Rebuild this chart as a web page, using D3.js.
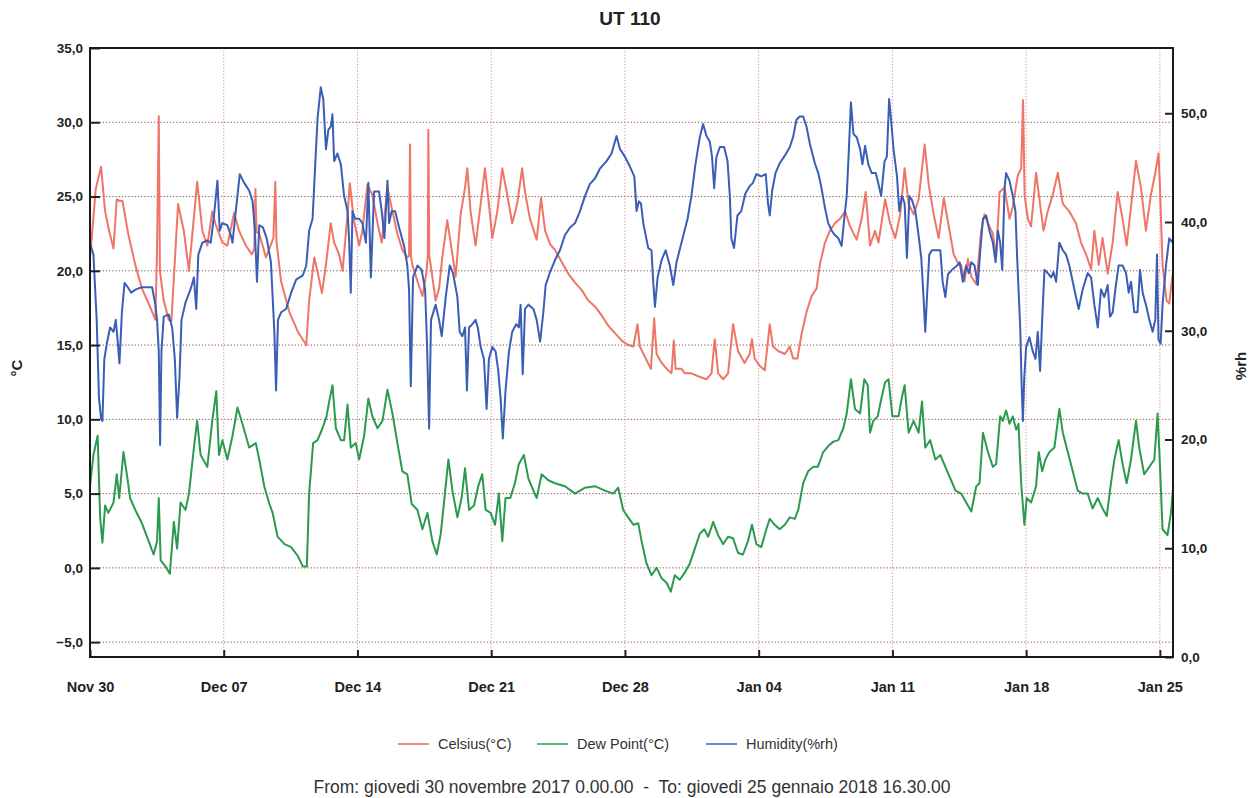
<!DOCTYPE html>
<html>
<head>
<meta charset="utf-8">
<script src="https://cdn.jsdelivr.net/npm/d3@7"></script>
<style>
  body { margin: 0; background: #fff; }
  text { font-family: "Liberation Sans", Arial, sans-serif; }
</style>
</head>
<body>
<div id="chart"></div>
<script>
// chart values: [day offset from Nov 30 2017 00:00, value]
const celsius = [[0,20.8],[0.3,25.5],[0.58,27.0],[0.79,24.0],[1.0,22.7],[1.23,21.5],[1.4,24.8],[1.55,24.7],[1.7,24.7],[2.0,22.5],[2.37,20.4],[2.72,18.8],[3.07,17.8],[3.42,16.7],[3.5,20.8],[3.6,30.4],[3.66,20.0],[3.86,18.0],[4.12,16.7],[4.26,16.6],[4.61,24.5],[4.91,22.7],[5.18,20.0],[5.61,26.0],[5.88,22.7],[6.14,21.7],[6.4,24.0],[6.58,23.1],[6.93,21.9],[7.19,21.7],[7.54,23.9],[7.8,22.7],[8.16,21.7],[8.47,21.1],[8.6,21.5],[8.66,25.5],[8.72,22.6],[8.86,22.5],[9.21,20.9],[9.6,22.2],[9.7,26.0],[9.76,22.0],[10.0,19.3],[10.44,17.2],[10.88,15.9],[11.32,15.0],[11.47,18.0],[11.74,20.9],[11.9,20.0],[12.14,18.5],[12.35,20.4],[12.6,23.2],[12.78,21.9],[13.04,21.1],[13.22,20.0],[13.48,23.8],[13.6,25.9],[13.8,23.5],[14.09,21.7],[14.26,22.7],[14.52,25.8],[14.78,25.1],[15.05,23.2],[15.27,21.9],[15.57,25.6],[15.83,24.0],[16.09,22.5],[16.35,21.4],[16.61,20.9],[16.7,21.0],[16.75,28.5],[16.8,21.0],[16.87,20.4],[17.14,19.3],[17.4,18.3],[17.6,19.8],[17.68,21.0],[17.71,29.5],[17.76,21.0],[17.83,20.4],[18.09,18.0],[18.27,18.8],[18.44,20.9],[18.7,23.4],[18.97,21.1],[19.14,19.6],[19.4,23.8],[19.63,25.6],[19.75,26.9],[19.92,24.0],[20.18,21.7],[20.45,24.5],[20.67,26.9],[20.88,24.5],[21.06,22.2],[21.32,24.0],[21.58,26.9],[21.84,25.1],[22.1,23.2],[22.36,24.5],[22.62,26.9],[22.77,25.3],[23.03,23.5],[23.38,22.1],[23.61,24.9],[23.82,22.7],[24.08,21.8],[24.34,21.4],[24.69,20.6],[25.04,19.8],[25.39,19.2],[25.74,18.7],[26.08,18.0],[26.43,17.6],[26.78,17.0],[27.13,16.3],[27.48,15.8],[27.83,15.3],[28.17,15.0],[28.44,14.9],[28.66,16.4],[28.78,14.9],[29.05,14.2],[29.36,13.4],[29.53,16.8],[29.66,14.4],[29.92,13.8],[30.26,13.3],[30.44,13.1],[30.56,15.3],[30.65,13.4],[30.96,13.4],[31.14,13.1],[31.48,13.1],[31.83,12.9],[32.27,12.7],[32.53,13.1],[32.7,15.4],[32.88,13.1],[33.14,12.7],[33.4,13.1],[33.66,16.4],[33.92,14.6],[34.26,13.8],[34.53,14.4],[34.65,15.4],[34.79,14.1],[35.05,13.6],[35.32,13.3],[35.58,16.4],[35.75,14.9],[36.02,14.6],[36.37,14.4],[36.63,14.9],[36.8,14.1],[37.03,14.1],[37.24,15.7],[37.5,17.2],[37.77,18.3],[38.03,18.8],[38.2,20.4],[38.47,21.9],[38.73,22.7],[38.99,23.2],[39.26,23.5],[39.52,24.0],[39.78,23.0],[40.13,22.1],[40.39,23.5],[40.6,25.3],[40.83,21.7],[41.09,22.7],[41.27,21.9],[41.62,24.8],[41.88,23.2],[42.15,22.2],[42.41,23.8],[42.64,26.9],[42.85,24.5],[43.11,23.8],[43.37,24.8],[43.69,28.5],[43.9,25.8],[44.16,23.8],[44.42,22.2],[44.69,24.9],[44.95,23.0],[45.21,21.1],[45.48,20.4],[45.6,20.4],[45.78,19.3],[45.95,20.8],[46.13,19.6],[46.39,19.1],[46.65,22.7],[46.82,23.8],[47.0,23.2],[47.26,22.5],[47.43,20.9],[47.61,25.3],[47.87,25.6],[48.13,23.5],[48.3,24.3],[48.56,26.4],[48.74,26.9],[48.84,31.5],[48.92,25.1],[49.09,23.5],[49.26,23.0],[49.52,26.6],[49.7,24.8],[49.91,22.7],[50.13,24.0],[50.39,25.1],[50.66,26.6],[50.92,24.5],[51.26,24.0],[51.61,23.2],[51.87,21.9],[52.14,21.1],[52.4,20.1],[52.57,22.7],[52.8,20.4],[53.0,22.2],[53.27,19.8],[53.53,21.9],[53.79,25.3],[54.05,23.5],[54.26,21.7],[54.49,24.3],[54.75,27.4],[55.01,25.6],[55.27,22.7],[55.53,25.1],[55.76,26.6],[55.93,27.9],[56.0,25.8],[56.14,20.4],[56.35,18.0],[56.49,17.8],[56.67,19.8]];

const dewPoint = [[0,5.5],[0.18,7.6],[0.4,8.9],[0.53,3.4],[0.65,1.7],[0.79,4.2],[0.96,3.7],[1.23,4.4],[1.4,6.3],[1.53,4.7],[1.75,7.8],[1.93,6.3],[2.1,4.7],[2.37,3.9],[2.72,3.0],[3.07,1.8],[3.33,0.9],[3.51,1.8],[3.6,4.7],[3.7,0.5],[3.95,0.1],[4.18,-0.4],[4.39,3.1],[4.56,1.3],[4.74,4.4],[5.0,3.9],[5.18,5.0],[5.44,8.1],[5.61,9.9],[5.79,7.6],[6.14,6.8],[6.4,9.9],[6.61,11.9],[6.75,7.6],[6.93,8.6],[7.19,7.3],[7.46,8.9],[7.72,10.8],[7.98,9.7],[8.33,8.1],[8.68,8.4],[8.86,7.3],[9.12,5.5],[9.39,4.3],[9.56,3.7],[9.82,2.1],[10.18,1.6],[10.53,1.4],[10.88,0.8],[11.14,0.1],[11.35,0.1],[11.47,5.0],[11.68,8.4],[11.91,8.6],[12.17,9.4],[12.38,10.2],[12.52,11.2],[12.69,12.3],[12.87,9.4],[13.13,8.6],[13.3,8.6],[13.48,11.0],[13.65,8.1],[13.91,8.4],[14.09,7.3],[14.35,8.9],[14.57,11.4],[14.78,10.2],[15.05,9.4],[15.31,9.9],[15.57,12.0],[15.83,10.4],[16.09,8.4],[16.35,6.5],[16.61,6.3],[16.84,4.3],[17.14,3.9],[17.4,2.6],[17.66,3.7],[17.92,1.8],[18.15,0.9],[18.36,2.3],[18.53,4.4],[18.76,7.3],[18.97,5.2],[19.23,3.4],[19.45,4.7],[19.63,6.7],[19.84,3.9],[20.1,4.2],[20.32,5.5],[20.53,6.3],[20.71,3.9],[20.97,3.7],[21.2,2.9],[21.4,5.0],[21.58,1.8],[21.75,4.7],[22.0,4.7],[22.24,5.7],[22.45,7.0],[22.71,7.6],[22.8,7.0],[22.95,6.0],[23.21,5.2],[23.38,4.7],[23.64,6.3],[23.99,5.9],[24.34,5.7],[24.86,5.5],[25.39,5.0],[25.91,5.4],[26.43,5.5],[26.95,5.2],[27.39,5.0],[27.65,5.4],[27.91,3.9],[28.17,3.4],[28.44,2.9],[28.7,3.0],[28.87,1.8],[29.13,0.3],[29.39,-0.5],[29.66,0.0],[29.92,-0.7],[30.18,-1.0],[30.4,-1.6],[30.61,-0.5],[30.87,-0.8],[31.14,-0.3],[31.4,0.3],[31.66,1.3],[31.92,2.3],[32.15,2.6],[32.36,2.1],[32.62,3.1],[32.88,2.2],[33.14,1.6],[33.4,2.1],[33.66,2.0],[33.92,1.0],[34.18,0.9],[34.44,1.8],[34.65,2.9],[34.88,1.6],[35.14,1.4],[35.4,2.6],[35.58,3.3],[35.84,2.9],[36.1,2.6],[36.37,2.9],[36.63,3.4],[36.89,3.3],[37.07,3.9],[37.33,5.7],[37.59,6.5],[37.85,6.8],[38.1,6.8],[38.38,7.8],[38.64,8.2],[38.91,8.5],[39.17,8.6],[39.43,9.4],[39.61,10.4],[39.83,12.7],[40.04,10.7],[40.31,10.4],[40.53,12.7],[40.71,12.3],[40.83,9.1],[41.0,9.9],[41.23,10.2],[41.44,11.5],[41.62,12.5],[41.8,12.7],[42.0,10.2],[42.32,10.2],[42.5,11.5],[42.64,12.3],[42.85,9.1],[43.11,9.9],[43.37,9.1],[43.55,11.2],[43.72,8.1],[43.98,8.6],[44.25,7.3],[44.51,7.6],[44.77,6.8],[45.04,6.0],[45.3,5.2],[45.6,5.0],[45.86,4.4],[46.13,3.8],[46.39,5.5],[46.56,5.7],[46.74,9.1],[47.0,7.8],[47.26,6.8],[47.43,7.0],[47.64,10.2],[47.78,9.9],[47.95,10.6],[48.13,9.7],[48.3,10.2],[48.48,9.3],[48.6,9.7],[48.74,5.7],[48.83,4.2],[48.91,2.9],[49.03,4.7],[49.26,4.4],[49.52,5.5],[49.66,7.8],[49.84,6.5],[50.01,7.3],[50.22,7.8],[50.48,8.1],[50.74,10.7],[50.92,9.1],[51.18,7.8],[51.44,6.5],[51.7,5.2],[51.96,5.0],[52.22,5.0],[52.48,4.0],[52.75,4.7],[53.0,4.0],[53.22,3.5],[53.44,5.7],[53.62,7.3],[53.84,8.6],[54.05,7.0],[54.26,5.7],[54.49,7.3],[54.75,9.9],[54.92,8.1],[55.18,6.3],[55.45,6.8],[55.71,7.3],[55.88,10.4],[56.0,7.0],[56.14,2.6],[56.4,2.2],[56.58,3.7],[56.7,5.5]];

const humidity = [[0,38.1],[0.18,37.0],[0.35,31.0],[0.47,23.8],[0.58,21.9],[0.65,21.7],[0.75,27.4],[0.88,28.8],[1.05,30.3],[1.23,29.9],[1.35,31.0],[1.46,28.8],[1.54,27.0],[1.67,31.7],[1.81,34.4],[1.98,34.0],[2.16,33.5],[2.4,33.8],[2.72,34.0],[3.0,34.0],[3.25,34.0],[3.42,32.4],[3.51,31.0],[3.6,28.1],[3.67,19.5],[3.74,28.1],[3.86,31.3],[4.12,31.5],[4.3,30.3],[4.44,27.4],[4.56,22.0],[4.68,25.6],[4.79,31.0],[5.0,32.6],[5.26,33.8],[5.44,34.9],[5.56,32.0],[5.67,37.0],[5.88,38.1],[6.14,38.3],[6.32,38.1],[6.49,40.6],[6.67,43.8],[6.79,39.2],[6.93,39.9],[7.19,39.7],[7.37,38.8],[7.46,38.1],[7.63,41.0],[7.84,44.4],[8.07,43.6],[8.33,42.9],[8.51,41.9],[8.63,39.2],[8.74,34.5],[8.86,39.7],[9.05,39.5],[9.25,38.5],[9.47,36.3],[9.65,29.9],[9.74,24.5],[9.84,31.0],[10.0,31.7],[10.26,32.0],[10.53,33.5],[10.79,34.7],[11.14,35.1],[11.32,36.0],[11.47,39.2],[11.65,40.3],[11.79,45.3],[11.91,49.5],[12.08,52.4],[12.21,51.3],[12.35,46.7],[12.48,48.5],[12.61,48.8],[12.69,49.9],[12.78,45.6],[12.95,46.3],[13.13,45.3],[13.3,42.4],[13.48,41.0],[13.56,38.5],[13.65,33.5],[13.74,41.0],[13.88,40.3],[14.09,40.3],[14.26,39.9],[14.44,38.1],[14.57,43.6],[14.7,34.9],[14.87,42.8],[15.13,42.8],[15.27,41.0],[15.41,38.5],[15.57,43.8],[15.66,39.9],[15.79,41.0],[15.97,41.0],[16.18,39.5],[16.44,37.8],[16.61,36.0],[16.7,33.8],[16.79,24.9],[16.91,34.9],[17.14,36.0],[17.36,35.6],[17.54,33.8],[17.64,28.8],[17.75,21.0],[17.85,31.0],[18.09,32.4],[18.27,31.0],[18.41,29.5],[18.62,33.1],[18.83,36.0],[19.0,35.3],[19.23,33.1],[19.35,29.9],[19.49,29.5],[19.63,30.3],[19.73,24.5],[19.84,30.3],[20.01,30.6],[20.18,31.0],[20.3,30.3],[20.45,28.5],[20.62,27.4],[20.76,22.8],[20.88,27.4],[21.06,28.5],[21.23,28.1],[21.37,26.3],[21.49,23.8],[21.61,20.1],[21.75,24.5],[21.93,28.1],[22.1,29.9],[22.31,30.6],[22.45,30.3],[22.54,32.4],[22.65,26.0],[22.77,32.0],[22.95,32.4],[23.21,32.0],[23.38,31.0],[23.56,29.0],[23.73,31.7],[23.85,34.2],[24.08,35.4],[24.34,36.5],[24.6,37.4],[24.86,38.8],[25.13,39.5],[25.39,39.9],[25.65,41.0],[25.91,42.4],[26.17,43.5],[26.43,44.0],[26.69,44.9],[27.04,45.6],[27.3,46.3],[27.56,47.9],[27.74,46.7],[28.0,46.0],[28.26,45.1],[28.49,44.2],[28.61,41.0],[28.73,41.9],[28.84,41.7],[28.96,39.9],[29.22,37.6],[29.39,37.4],[29.48,34.5],[29.57,32.2],[29.71,34.9],[29.92,36.5],[30.13,37.4],[30.35,36.0],[30.53,34.2],[30.7,36.3],[30.96,38.1],[31.28,40.3],[31.48,42.4],[31.69,45.3],[31.92,47.8],[32.09,49.0],[32.27,47.9],[32.44,47.4],[32.56,46.0],[32.67,43.1],[32.79,46.0],[32.97,46.9],[33.19,46.9],[33.37,45.6],[33.49,42.4],[33.57,38.5],[33.71,37.6],[33.89,40.6],[34.09,41.0],[34.3,42.6],[34.53,43.3],[34.7,43.6],[34.88,44.4],[35.14,44.2],[35.37,44.4],[35.49,41.7],[35.58,40.6],[35.7,42.8],[35.88,44.5],[36.1,45.4],[36.37,46.1],[36.63,46.9],[36.8,47.8],[36.98,49.4],[37.15,49.7],[37.33,49.7],[37.5,48.8],[37.68,47.2],[37.94,45.4],[38.12,44.5],[38.29,43.1],[38.47,41.3],[38.64,39.9],[38.82,39.2],[38.99,38.8],[39.17,38.5],[39.34,37.8],[39.48,40.3],[39.61,42.4],[39.73,47.0],[39.83,51.0],[39.96,48.1],[40.13,47.8],[40.31,46.7],[40.43,45.3],[40.57,47.0],[40.74,45.3],[40.92,44.5],[41.13,44.5],[41.27,43.5],[41.41,42.4],[41.59,45.6],[41.71,46.0],[41.83,51.3],[41.94,49.2],[42.06,46.7],[42.24,44.2],[42.36,41.0],[42.5,42.4],[42.64,41.7],[42.76,36.7],[42.89,42.4],[43.03,42.0],[43.2,41.0],[43.37,38.8],[43.51,36.7],[43.63,33.1],[43.72,29.9],[43.81,33.1],[43.93,37.0],[44.07,37.4],[44.33,37.4],[44.51,37.4],[44.63,34.5],[44.77,33.1],[44.91,35.2],[45.12,35.6],[45.39,36.0],[45.52,36.3],[45.69,34.5],[45.86,36.0],[46.0,35.3],[46.13,36.3],[46.3,36.0],[46.47,34.2],[46.6,37.4],[46.74,40.3],[46.91,40.6],[47.08,39.2],[47.26,38.1],[47.4,36.3],[47.52,39.2],[47.64,38.1],[47.75,35.6],[47.87,43.1],[47.95,44.5],[48.13,43.8],[48.3,42.4],[48.44,41.0],[48.53,36.7],[48.62,33.1],[48.69,30.3],[48.76,25.3],[48.83,21.7],[48.9,25.6],[49.0,28.5],[49.17,29.4],[49.35,28.1],[49.49,27.4],[49.61,29.9],[49.73,26.3],[49.84,31.0],[49.96,35.6],[50.13,35.3],[50.31,34.9],[50.43,35.4],[50.57,34.5],[50.74,38.1],[50.92,37.4],[51.09,37.0],[51.26,36.0],[51.44,34.5],[51.61,33.1],[51.75,32.0],[51.96,33.8],[52.22,35.3],[52.4,34.9],[52.57,32.4],[52.75,30.3],[52.92,33.8],[53.09,33.1],[53.27,34.2],[53.39,31.3],[53.53,31.7],[53.67,33.8],[53.84,36.0],[54.05,36.0],[54.23,35.3],[54.37,33.5],[54.49,34.5],[54.66,31.7],[54.83,31.7],[54.96,35.6],[55.1,33.5],[55.27,32.4],[55.45,31.0],[55.62,29.9],[55.76,31.0],[55.85,37.0],[55.93,29.2],[56.04,28.8],[56.14,32.4],[56.32,36.0],[56.49,38.5],[56.67,38.1]];

const tempTicks = [-5, 0, 5, 10, 15, 20, 25, 30, 35];
const humTicks = [0, 10, 20, 30, 40, 50];
const dateTicks = ["2017-11-30", "2017-12-07", "2017-12-14", "2017-12-21", "2017-12-28", "2018-01-04", "2018-01-11", "2018-01-18", "2018-01-25"];
const seriesNames = ["Celsius(°C)", "Dew Point(°C)", "Humidity(%rh)"];
const seriesColors = ["#ec6657", "#2b9a4f", "#3a5db6"];

const startDate = new Date(2017, 10, 30, 0, 0);
const endDate = new Date(2018, 0, 25, 16, 30);
const toDate = d => d3.timeMinute.offset(startDate, Math.round(d * 1440));
const parseDay = d3.timeParse("%Y-%m-%d");
const fmtNum = v => d3.format(".1f")(v).replace(".", ",");

const W = 1259, H = 798;
const plot = {left: 90, right: 1173, top: 48, bottom: 657};

const svg = d3.select("#chart").append("svg")
  .attr("width", W).attr("height", H);

const x = d3.scaleTime().domain([startDate, endDate]).range([plot.left, plot.right]);
const yT = d3.scaleLinear().domain([-6, 35]).range([plot.bottom, plot.top]);
const yH = d3.scaleLinear().domain([0, 56]).range([plot.bottom, plot.top]);

// title
svg.append("text").attr("x", 630).attr("y", 25).attr("text-anchor", "middle")
  .style("font-size", "19px").style("font-weight", "bold").attr("fill", "#222").text("UT 110");

// grid lines
const grid = svg.append("g");
grid.selectAll("line.h").data(tempTicks.filter(t => t < 35)).join("line")
  .attr("x1", plot.left).attr("x2", plot.right)
  .attr("y1", d => yT(d)).attr("y2", d => yT(d))
  .attr("stroke", "#8a4a4a").attr("stroke-width", 1).attr("stroke-dasharray", "1.2,2");
grid.selectAll("line.v").data(dateTicks.slice(1)).join("line")
  .attr("x1", d => x(parseDay(d))).attr("x2", d => x(parseDay(d)))
  .attr("y1", plot.top).attr("y2", plot.bottom)
  .attr("stroke", "#d49090").attr("stroke-width", 1).attr("stroke-dasharray", "1.2,2");

// series
const lineT = d3.line().x(d => x(toDate(d[0]))).y(d => yT(d[1]));
const lineH = d3.line().x(d => x(toDate(d[0]))).y(d => yH(d[1]));
const lines = svg.append("g").attr("fill", "none").attr("stroke-width", 2)
  .attr("stroke-linejoin", "round");
lines.append("path").datum(celsius).attr("d", lineT).attr("stroke", seriesColors[0]).attr("stroke-opacity", 0.9);
lines.append("path").datum(dewPoint).attr("d", lineT).attr("stroke", seriesColors[1]);
lines.append("path").datum(humidity).attr("d", lineH).attr("stroke", seriesColors[2]);

// axes
const axL = svg.append("g").attr("transform", `translate(${plot.left},0)`)
  .call(d3.axisLeft(yT).tickValues(tempTicks).tickSize(-10).tickPadding(8).tickFormat(fmtNum));
const axR = svg.append("g").attr("transform", `translate(${plot.right},0)`)
  .call(d3.axisRight(yH).tickValues(humTicks).tickSize(-8).tickPadding(8).tickFormat(fmtNum));
const axB = svg.append("g").attr("transform", `translate(0,${plot.bottom})`)
  .call(d3.axisBottom(x).tickValues(dateTicks.map(parseDay)).tickSize(-7).tickPadding(25)
    .tickFormat(d3.timeFormat("%b %d")));
[axL, axR, axB].forEach(a => {
  a.select(".domain").remove();
  a.selectAll(".tick line").attr("stroke", "#222").attr("stroke-width", 2);
  a.selectAll(".tick text").style("font-size", "13.5px").style("font-weight", "bold")
    .style("font-family", "'Liberation Sans', Arial, sans-serif").attr("fill", "#222");
});
axB.selectAll(".tick text").style("font-size", "14.5px");
axL.selectAll(".tick text").attr("x", -7);
axR.selectAll(".tick text").attr("x", 8);

// frame
svg.append("rect").attr("x", plot.left).attr("y", plot.top)
  .attr("width", plot.right - plot.left).attr("height", plot.bottom - plot.top)
  .attr("fill", "none").attr("stroke", "#1a1a1a").attr("stroke-width", 2);

// axis titles
svg.append("text").attr("transform", "translate(22,368) rotate(-90)").attr("text-anchor", "middle")
  .style("font-size", "15px").style("font-weight", "bold").attr("fill", "#222").text("°C");
svg.append("text").attr("transform", "translate(1246,366) rotate(-90)").attr("text-anchor", "middle")
  .style("font-size", "15px").style("font-weight", "bold").attr("fill", "#222").text("%rh");

// legend
const legendX = [398, 537, 706];
const legend = svg.append("g").selectAll("g").data(seriesNames).join("g")
  .attr("transform", (d, i) => `translate(${legendX[i]},744)`);
legend.append("line").attr("x1", 0).attr("x2", 31).attr("y1", 0).attr("y2", 0)
  .attr("stroke", (d, i) => seriesColors[i]).attr("stroke-width", 1.5);
legend.append("text").attr("x", 40).attr("y", 5).style("font-size", "14.5px")
  .attr("fill", "#333").text(d => d);

// footer
svg.append("text").attr("x", 632).attr("y", 793).attr("text-anchor", "middle")
  .style("font-size", "17.5px").attr("fill", "#333").attr("xml:space", "preserve")
  .style("white-space", "pre")
  .text("From: giovedi 30 novembre 2017 0.00.00  -  To: giovedi 25 gennaio 2018 16.30.00");
</script>
</body>
</html>
